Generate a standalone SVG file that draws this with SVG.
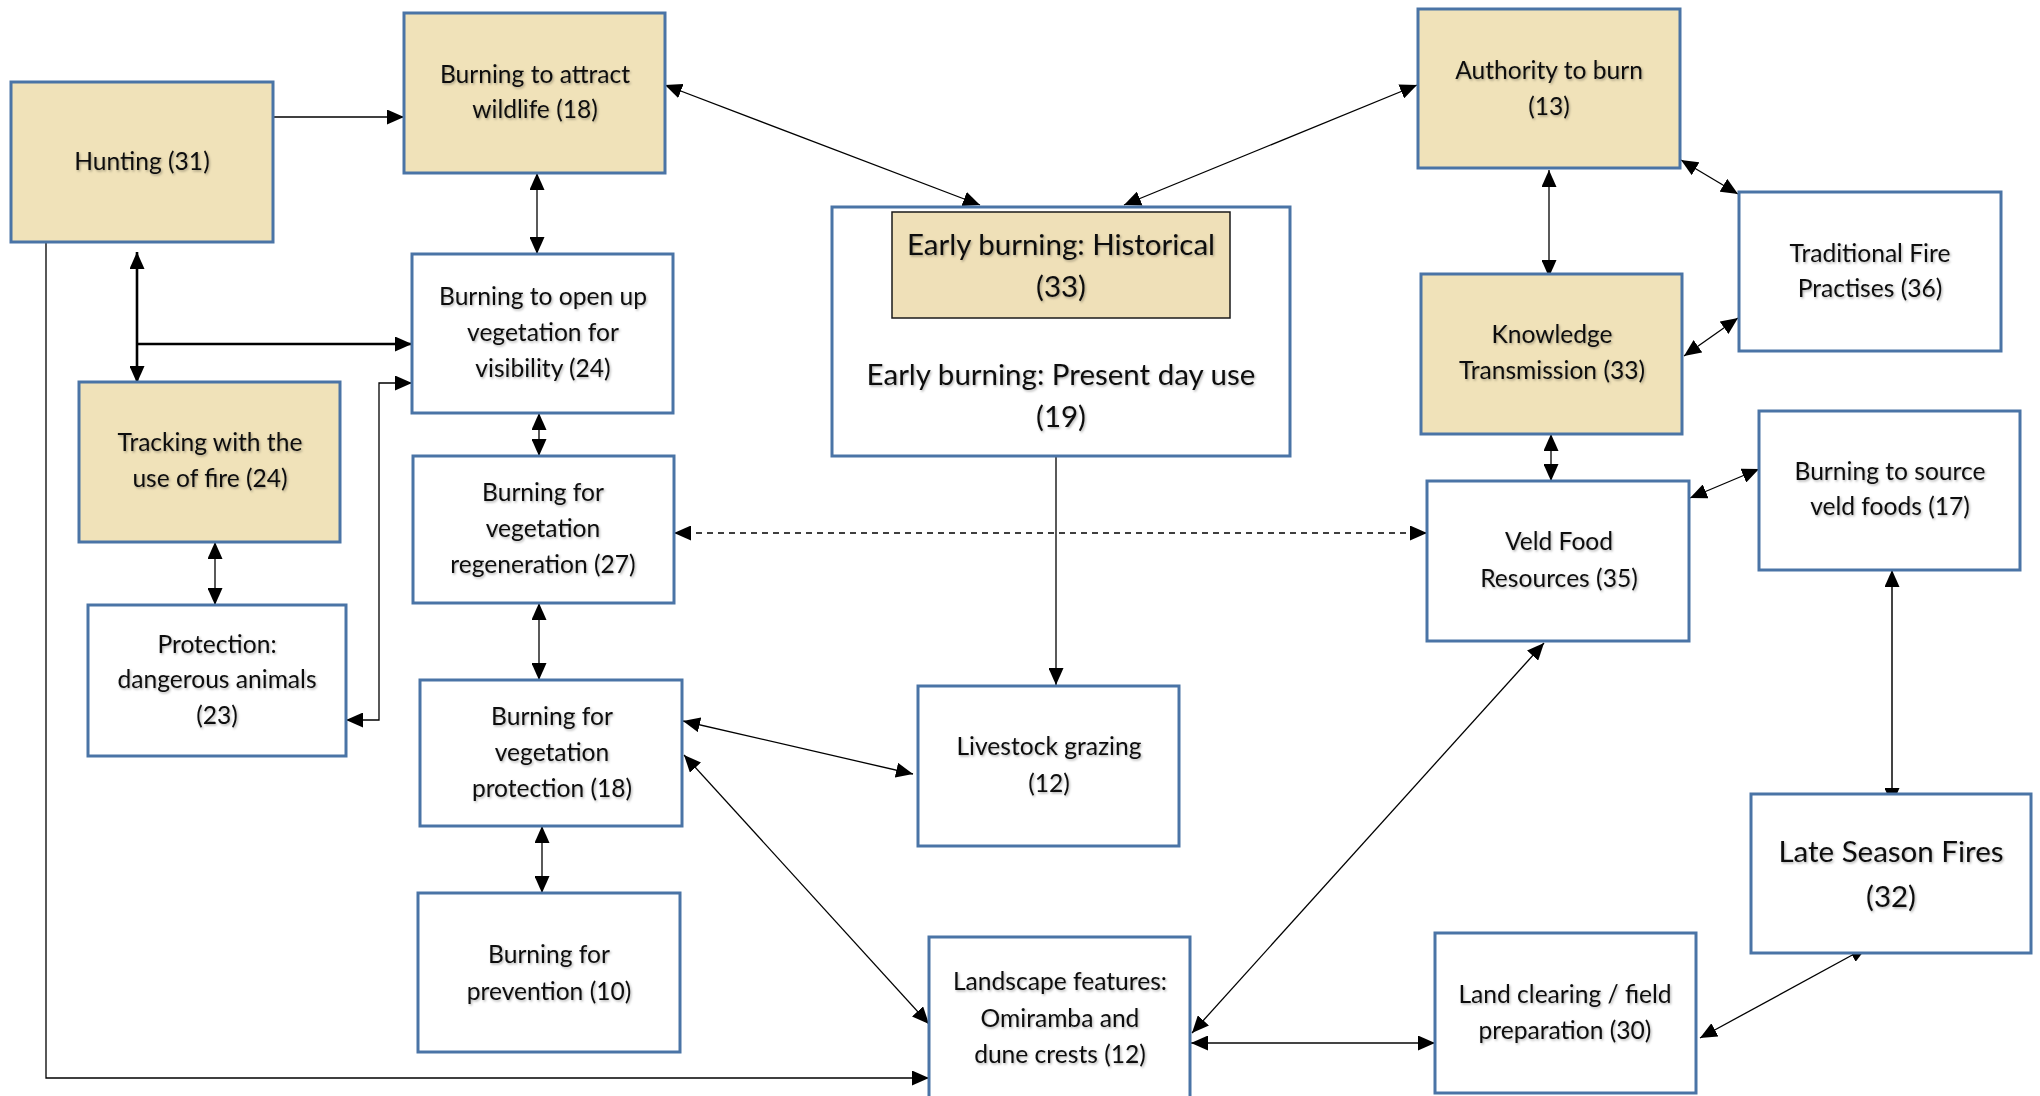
<svg xmlns="http://www.w3.org/2000/svg" width="2040" height="1096" viewBox="0 0 2040 1096">
  <defs>
    <marker id="arrow" markerUnits="userSpaceOnUse" markerWidth="17" markerHeight="15" refX="17" refY="7.5" orient="auto-start-reverse">
      <path d="M0,0 L17,7.5 L0,15 z" fill="#000"/>
    </marker>
    <filter id="tshadow" x="-10%" y="-30%" width="120%" height="160%">
      <feDropShadow dx="1.2" dy="1.5" stdDeviation="0.9" flood-color="#000" flood-opacity="0.3"/>
    </filter>
    <style>
      .box { fill: #ffffff; stroke: #4a74a6; stroke-width: 3; }
      .hl { fill: #f0e2b9; }
      .inner { fill: #efe0b8; stroke: #1a1a1a; stroke-width: 1.5; }
      .lbl { font-family: Lato, "Open Sans", "Liberation Sans", sans-serif; font-size: 24.6px; fill: #111; text-anchor: middle; filter: url(#tshadow); }
      .big { font-size: 29.5px; }
      .ln { fill: none; stroke: #000; stroke-width: 1.3; }
      .thick { stroke-width: 2.6; }
      .grey { stroke: #444; stroke-width: 2; }
      .dash { stroke-dasharray: 6 5; stroke-width: 1.6; }
    </style>
  </defs>

  <rect width="2040" height="1096" fill="#ffffff"/>

  <!-- connectors -->
  <g id="connectors">
    <line class="ln" x1="273" y1="117" x2="404" y2="117" marker-end="url(#arrow)"/>
    <line class="ln" x1="665" y1="85" x2="980" y2="205" marker-start="url(#arrow)" marker-end="url(#arrow)"/>
    <line class="ln" x1="1124" y1="205" x2="1417" y2="85" marker-start="url(#arrow)" marker-end="url(#arrow)"/>
    <line class="ln" x1="537" y1="173" x2="537" y2="254" marker-start="url(#arrow)" marker-end="url(#arrow)"/>
    <line class="ln thick" x1="137" y1="252" x2="137" y2="383" marker-start="url(#arrow)" marker-end="url(#arrow)"/>
    <line class="ln thick" x1="137" y1="344" x2="412" y2="344" marker-end="url(#arrow)"/>
    <polyline class="ln" points="346,720 379,720 379,383 412,383" marker-start="url(#arrow)" marker-end="url(#arrow)"/>
    <line class="ln" x1="215" y1="542" x2="215" y2="605" marker-start="url(#arrow)" marker-end="url(#arrow)"/>
    <line class="ln" x1="539" y1="413" x2="539" y2="456" marker-start="url(#arrow)" marker-end="url(#arrow)"/>
    <line class="ln" x1="539" y1="603" x2="539" y2="680" marker-start="url(#arrow)" marker-end="url(#arrow)"/>
    <line class="ln" x1="542" y1="826" x2="542" y2="893" marker-start="url(#arrow)" marker-end="url(#arrow)"/>
    <line class="ln dash" x1="674" y1="533" x2="1427" y2="533" marker-start="url(#arrow)" marker-end="url(#arrow)"/>
    <line class="ln" x1="1056" y1="456" x2="1056" y2="685" marker-end="url(#arrow)"/>
    <line class="ln" x1="683" y1="721" x2="913" y2="774" marker-start="url(#arrow)" marker-end="url(#arrow)"/>
    <line class="ln" x1="684" y1="755" x2="929" y2="1024" marker-start="url(#arrow)" marker-end="url(#arrow)"/>
    <polyline class="ln" points="46,242 46,1078 929,1078" marker-end="url(#arrow)"/>
    <line class="ln" x1="1544" y1="643" x2="1192" y2="1033" marker-start="url(#arrow)" marker-end="url(#arrow)"/>
    <line class="ln grey" x1="1191" y1="1043" x2="1435" y2="1043" marker-start="url(#arrow)" marker-end="url(#arrow)"/>
    <line class="ln" x1="1700" y1="1038" x2="1867" y2="947" marker-start="url(#arrow)" marker-end="url(#arrow)"/>
    <line class="ln grey" x1="1892" y1="570" x2="1892" y2="805" marker-start="url(#arrow)" marker-end="url(#arrow)"/>
    <line class="ln" x1="1690" y1="498" x2="1759" y2="469" marker-start="url(#arrow)" marker-end="url(#arrow)"/>
    <line class="ln" x1="1551" y1="434" x2="1551" y2="481" marker-start="url(#arrow)" marker-end="url(#arrow)"/>
    <line class="ln" x1="1549" y1="170" x2="1549" y2="277" marker-start="url(#arrow)" marker-end="url(#arrow)"/>
    <line class="ln" x1="1681" y1="160" x2="1738" y2="194" marker-start="url(#arrow)" marker-end="url(#arrow)"/>
    <line class="ln" x1="1684" y1="356" x2="1738" y2="318" marker-start="url(#arrow)" marker-end="url(#arrow)"/>
  </g>

  <!-- nodes -->
  <g id="hunting">
    <rect class="box hl" x="11" y="82" width="262" height="160"/>
    <text class="lbl" x="142" y="170">Hunting (31)</text>
  </g>
  <g id="attract-wildlife">
    <rect class="box hl" x="404" y="13" width="261" height="160"/>
    <text class="lbl" x="535" y="83">Burning to attract</text>
    <text class="lbl" x="535" y="118">wildlife (18)</text>
  </g>
  <g id="open-vegetation">
    <rect class="box" x="412" y="254" width="261" height="159"/>
    <text class="lbl" x="543" y="305">Burning to open up</text>
    <text class="lbl" x="543" y="341">vegetation for</text>
    <text class="lbl" x="543" y="377">visibility (24)</text>
  </g>
  <g id="tracking">
    <rect class="box hl" x="79" y="382" width="261" height="160"/>
    <text class="lbl" x="210" y="451">Tracking with the</text>
    <text class="lbl" x="210" y="487">use of fire (24)</text>
  </g>
  <g id="protection-animals">
    <rect class="box" x="88" y="605" width="258" height="151"/>
    <text class="lbl" x="217" y="653">Protection:</text>
    <text class="lbl" x="217" y="688">dangerous animals</text>
    <text class="lbl" x="217" y="724">(23)</text>
  </g>
  <g id="regeneration">
    <rect class="box" x="413" y="456" width="261" height="147"/>
    <text class="lbl" x="543" y="501">Burning for</text>
    <text class="lbl" x="543" y="537">vegetation</text>
    <text class="lbl" x="543" y="573">regeneration (27)</text>
  </g>
  <g id="vegetation-protection">
    <rect class="box" x="420" y="680" width="262" height="146"/>
    <text class="lbl" x="552" y="725">Burning for</text>
    <text class="lbl" x="552" y="761">vegetation</text>
    <text class="lbl" x="552" y="797">protection (18)</text>
  </g>
  <g id="prevention">
    <rect class="box" x="418" y="893" width="262" height="159"/>
    <text class="lbl" x="549" y="963">Burning for</text>
    <text class="lbl" x="549" y="1000">prevention (10)</text>
  </g>
  <g id="early-burning">
    <rect class="box" x="832" y="207" width="458" height="249"/>
    <rect class="inner" x="892" y="212" width="338" height="106"/>
    <text class="lbl big" x="1061" y="255">Early burning: Historical</text>
    <text class="lbl big" x="1061" y="297">(33)</text>
    <text class="lbl big" x="1061" y="385">Early burning: Present day use</text>
    <text class="lbl big" x="1061" y="427">(19)</text>
  </g>
  <g id="livestock">
    <rect class="box" x="918" y="686" width="261" height="160"/>
    <text class="lbl" x="1049" y="755">Livestock grazing</text>
    <text class="lbl" x="1049" y="792">(12)</text>
  </g>
  <g id="landscape">
    <rect class="box" x="929" y="937" width="261" height="170"/>
    <text class="lbl" x="1060" y="990">Landscape features:</text>
    <text class="lbl" x="1060" y="1027">Omiramba and</text>
    <text class="lbl" x="1060" y="1063">dune crests (12)</text>
  </g>
  <g id="land-clearing">
    <rect class="box" x="1435" y="933" width="261" height="160"/>
    <text class="lbl" x="1565" y="1003">Land clearing / field</text>
    <text class="lbl" x="1565" y="1039">preparation (30)</text>
  </g>
  <g id="authority">
    <rect class="box hl" x="1418" y="9" width="262" height="159"/>
    <text class="lbl" x="1549" y="79">Authority to burn</text>
    <text class="lbl" x="1549" y="115">(13)</text>
  </g>
  <g id="traditional">
    <rect class="box" x="1739" y="192" width="262" height="159"/>
    <text class="lbl" x="1870" y="262">Traditional Fire</text>
    <text class="lbl" x="1870" y="297">Practises (36)</text>
  </g>
  <g id="knowledge">
    <rect class="box hl" x="1421" y="274" width="261" height="160"/>
    <text class="lbl" x="1552" y="343">Knowledge</text>
    <text class="lbl" x="1552" y="379">Transmission (33)</text>
  </g>
  <g id="veld-food">
    <rect class="box" x="1427" y="481" width="262" height="160"/>
    <text class="lbl" x="1559" y="550">Veld Food</text>
    <text class="lbl" x="1559" y="587">Resources (35)</text>
  </g>
  <g id="source-veld">
    <rect class="box" x="1759" y="411" width="261" height="159"/>
    <text class="lbl" x="1890" y="480">Burning to source</text>
    <text class="lbl" x="1890" y="515">veld foods (17)</text>
  </g>
  <g id="late-season">
    <rect class="box" x="1751" y="794" width="280" height="159"/>
    <text class="lbl big" x="1891" y="862">Late Season Fires</text>
    <text class="lbl big" x="1891" y="907">(32)</text>
  </g>
</svg>
